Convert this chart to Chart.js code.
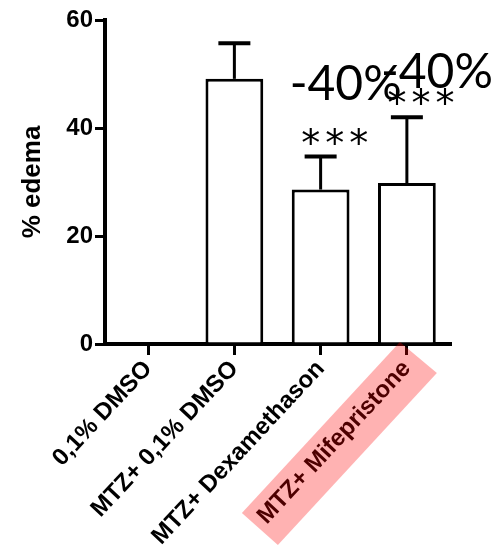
<!DOCTYPE html>
<html>
<head>
<meta charset="utf-8">
<script src="https://cdn.jsdelivr.net/npm/chart.js@4.4.0/dist/chart.umd.min.js"></script>
<style>
  html, body { margin: 0; padding: 0; background: #fff; }
  #wrap { width: 493px; height: 549px; }
</style>
</head>
<body>
<div id="wrap"><canvas id="chartCanvas"></canvas></div>
<script>
// Data
const groups = ["0,1% DMSO", "MTZ+ 0,1% DMSO", "MTZ+ Dexamethason", "MTZ+ Mifepristone"];
const edema = [0, 49.1, 28.6, 29.8];
const sem = [0, 6.6, 6.1, 12.2];
const stars = ["", "", "***", "***"];
const change = ["", "", "-40%", "-40%"];
const yTicks = [0, 20, 40, 60];
const highlighted = 3;

const AXIS_FONT = "'Liberation Sans', Arial, sans-serif";

// error bars + significance stars + % change
const errorBars = {
  id: "errorBars",
  afterDatasetsDraw(chart) {
    const { ctx, scales: { y } } = chart;
    const meta = chart.getDatasetMeta(0);
    const labelShift = [[0, 0], [0, 0], [25, -72], [30, -45]];
    ctx.save();
    ctx.strokeStyle = "#000";
    ctx.fillStyle = "#000";
    meta.data.forEach((bar, i) => {
      if (!sem[i]) return;
      const top = y.getPixelForValue(edema[i] + sem[i]);
      ctx.lineWidth = 3;
      ctx.beginPath();
      ctx.moveTo(bar.x, bar.y);
      ctx.lineTo(bar.x, top);
      ctx.stroke();
      ctx.lineWidth = 4;
      ctx.beginPath();
      ctx.moveTo(bar.x - 16, top);
      ctx.lineTo(bar.x + 16, top);
      ctx.stroke();

      // stars
      if (stars[i]) {
        ctx.font = "38px 'DejaVu Sans', sans-serif";
        ctx.textAlign = "center";
        ctx.textBaseline = "alphabetic";
        const m = ctx.measureText("*");
        const cy = top - 21;
        const dy = (m.actualBoundingBoxAscent - m.actualBoundingBoxDescent) / 2;
        [...stars[i]].forEach((s, k) => {
          ctx.fillText(s, bar.x + 14 + (k - 1) * 24, cy + dy);
        });
      }

      // % change
      if (change[i]) {
        ctx.font = "48px Lato, sans-serif";
        ctx.textAlign = "center";
        ctx.textBaseline = "middle";
        ctx.fillText(change[i], bar.x + labelShift[i][0], top + labelShift[i][1]);
      }
    });
    ctx.restore();
  }
};

// pink highlight over one category label
const highlight = {
  id: "highlight",
  afterDraw(chart) {
    const { ctx, scales: { x } } = chart;
    const tx = x.getPixelForValue(highlighted);
    const ty = x.top;
    ctx.save();
    ctx.fillStyle = "rgba(255, 0, 0, 0.3)";
    ctx.beginPath();
    ctx.moveTo(tx - 7, ty - 2);
    ctx.lineTo(tx + 30, ty + 29);
    ctx.lineTo(tx - 129, ty + 201);
    ctx.lineTo(tx - 165, ty + 169);
    ctx.closePath();
    ctx.fill();
    ctx.restore();
  }
};

const ctx = document.getElementById("chartCanvas").getContext("2d");

const chart = new Chart(ctx, {
  type: "bar",
  data: {
    labels: groups,
    datasets: [{
      data: edema,
      backgroundColor: "#fff",
      borderColor: "#000",
      borderWidth: 3,
      barPercentage: 0.67,
      categoryPercentage: 1
    }]
  },
  options: {
    responsive: true,
    maintainAspectRatio: false,
    animation: false,
    layout: { padding: { top: 20, right: 43, left: 0, bottom: 0 } },
    plugins: {
      legend: { display: false },
      tooltip: { enabled: false }
    },
    scales: {
      x: {
        grid: { offset: false, drawOnChartArea: false, color: "#000", lineWidth: 3, tickLength: 11 },
        border: { color: "#000", width: 4 },
        ticks: {
          color: "#000",
          font: { family: AXIS_FONT, size: 24, weight: "bold" },
          minRotation: 47,
          maxRotation: 47,
          autoSkip: false,
          padding: 0
        },
        afterFit: s => { s.height = 205; }
      },
      y: {
        min: 0,
        max: 60,
        afterBuildTicks: s => { s.ticks = yTicks.map(v => ({ value: v })); },
        grid: { drawOnChartArea: false, color: "#000", lineWidth: 3, tickLength: 10 },
        border: { color: "#000", width: 4 },
        ticks: {
          color: "#000",
          font: { family: AXIS_FONT, size: 24, weight: "bold" },
          padding: 2
        },
        title: {
          display: true,
          text: "% edema",
          color: "#000",
          font: { family: AXIS_FONT, size: 26, weight: "bold" },
          padding: { top: 17, bottom: 0 }
        },
        afterFit: s => { s.width = 105; }
      }
    }
  },
  plugins: [errorBars, highlight]
});
</script>
</body>
</html>
